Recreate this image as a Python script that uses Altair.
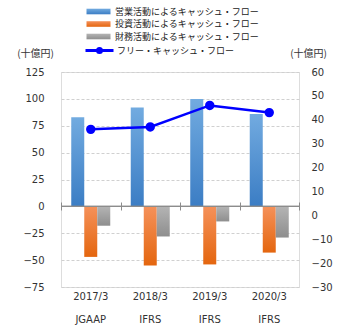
import altair as alt
import pandas as pd

years = ["2017/3", "2018/3", "2019/3", "2020/3"]
standards = ["JGAAP", "IFRS", "IFRS", "IFRS"]
operating = [83, 92, 100, 86]
investing = [-47, -55, -54, -43]
financing = [-18, -28, -14, -29]
free_cf = [36, 37, 46, 43]
series = ["営業活動によるキャッシュ・フロー", "投資活動によるキャッシュ・フロー", "財務活動によるキャッシュ・フロー"]
line_name = "フリー・キャッシュ・フロー"

cats = [f"{y}|{s}" for y, s in zip(years, standards)]

rows = []
for i, c in enumerate(cats):
    for s, vals in zip(series, [operating, investing, financing]):
        rows.append({"cat": c, "series": s, "value": vals[i]})
bars_df = pd.DataFrame(rows)
line_df = pd.DataFrame({"cat": cats, "name": line_name, "fcf": free_cf})


def grad(top, bottom):
    return {"expr": "{gradient:'linear',x1:0,y1:0,x2:0,y2:1,stops:[{offset:0,color:'%s'},{offset:1,color:'%s'}]}" % (top, bottom)}


FONT = "DejaVu Sans"
JP = "Noto Sans CJK JP"
LABEL_COLOR = "#333333"

x_scale = alt.Scale(paddingInner=0, paddingOuter=0)
left_scale = alt.Scale(domain=[-75, 125], nice=False)
left_axis = alt.Axis(values=list(range(-75, 126, 25)), grid=True, gridDash=[3, 2],
                     gridColor="#d0d0d0", domain=False, ticks=False, labelPadding=17,
                     labelOverlap=False, labelFont=FONT, labelFontSize=10,
                     labelColor=LABEL_COLOR,
                     title="(十億円)", titleAngle=0, titleX=-26, titleY=-19,
                     titleAlign="center", titleBaseline="middle", titleFont=JP,
                     titleFontSize=10, titleFontWeight="normal", titleColor=LABEL_COLOR)

bars = alt.Chart(bars_df).mark_bar(size=13).encode(
    x=alt.X("cat:N", sort=cats, scale=x_scale, title=None,
            axis=alt.Axis(orient="bottom", domain=False, ticks=False, grid=False, labelAngle=0,
                          labelExpr="split(datum.label, '|')", labelLineHeight=23,
                          labelPadding=4, labelFont=FONT, labelFontSize=10,
                          labelColor=LABEL_COLOR)),
    xOffset=alt.XOffset("series:N", sort=series,
                        scale=alt.Scale(paddingInner=0, paddingOuter=0.788)),
    y=alt.Y("value:Q", scale=left_scale, axis=left_axis),
    color=alt.Color("series:N", sort=series,
                    scale=alt.Scale(domain=series, range=[grad("#72abe0", "#3b7dc4"),
                                                          grad("#f5915a", "#e4660f"),
                                                          grad("#b4b4b4", "#8e8e8e")]),
                    legend=alt.Legend(title=None, orient="none", legendX=33, legendY=-65,
                                      symbolType="M-3,-0.7H3V0.7H-3Z", symbolSize=64,
                                      symbolStrokeWidth=0, labelOffset=12, rowPadding=2.5,
                                      padding=0, labelFont=JP, labelFontSize=9,
                                      labelColor="#222222")),
)

zero = alt.Chart(line_df).mark_rule(color="#8c8c8c", strokeWidth=1).encode(
    y=alt.Y(datum=0, scale=left_scale, axis=left_axis),
)

left = alt.layer(bars, zero)

line = alt.Chart(line_df).mark_line(
    strokeWidth=2.5,
    point=alt.OverlayMarkDef(filled=True, fill="#0000ff", size=55),
).encode(
    x=alt.X("cat:N", sort=cats, title=None,
            axis=alt.Axis(orient="top", offset=-138, domain=False, labels=False, ticks=True,
                          grid=False, tickBand="extent", tickSize=8, tickColor="#8c8c8c")),
    y=alt.Y("fcf:Q", scale=alt.Scale(domain=[-30, 60], nice=False),
            axis=alt.Axis(orient="right", values=list(range(-30, 61, 10)), grid=False,
                          domain=False, ticks=False, labelPadding=12, labelFont=FONT,
                          labelOverlap=False,
                          labelFontSize=10, labelColor=LABEL_COLOR,
                          title="(十億円)", titleAngle=0, titleX=9, titleY=-19,
                          titleAlign="center", titleBaseline="middle", titleFont=JP,
                          titleFontSize=10, titleFontWeight="normal", titleColor=LABEL_COLOR)),
    stroke=alt.Stroke("name:N", scale=alt.Scale(range=["#0000ff"]),
                      legend=alt.Legend(title=None, orient="none", legendX=33, legendY=-27,
                                        symbolType="M-3.5,0H3.5M-0.5,0A0.5,0.5,0,1,1,0.5,0A0.5,0.5,0,1,1,-0.5,0",
                                        symbolSize=64, symbolStrokeWidth=3,
                                        symbolFillColor="#0000ff", labelOffset=12, padding=0,
                                        labelFont=JP, labelFontSize=9, labelColor="#222222")),
)

chart = alt.layer(left, line).resolve_scale(y="independent").properties(
    width=238, height=215, autosize="none",
    padding={"left": 61, "top": 72, "right": 46, "bottom": 43},
).configure_view(stroke="transparent", strokeWidth=0).configure(background="white")

chart.save("out.html", embed_options={"renderer": "svg", "actions": False})
